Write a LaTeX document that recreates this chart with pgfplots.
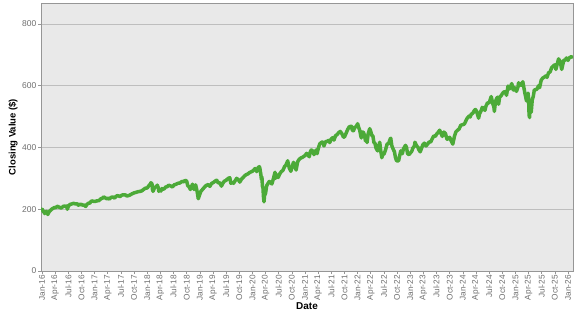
\documentclass[border=0pt]{standalone}
\usepackage{pgfplots}
\pgfplotsset{compat=1.18}
\usepackage{fontspec}
\setmainfont{Liberation Sans}
\definecolor{linegreen}{RGB}{76,170,56}
\definecolor{bggray}{RGB}{233,233,233}
\definecolor{gridgray}{RGB}{190,190,190}
\definecolor{axisgray}{RGB}{150,150,150}
\definecolor{tickgray}{RGB}{110,110,110}
\begin{document}
\begin{tikzpicture}
\begin{axis}[
  scale only axis,
  width=532bp, height=268bp,
  xmin=2015.98, xmax=2026.095,
  ymin=0, ymax=868,
  ytick={0,200,400,600,800},
  ymajorgrids,
  grid style={gridgray, line width=0.8bp},
  axis background/.style={fill=bggray},
  axis line style={axisgray, line width=0.8bp},
  tick style={axisgray, line width=0.6bp},
  tick align=outside,
  major tick length=3bp,
  xtick={2016,2016.25,...,2026.1},
  xticklabels={Jan-16,Apr-16,Jul-16,Oct-16,Jan-17,Apr-17,Jul-17,Oct-17,Jan-18,Apr-18,Jul-18,Oct-18,Jan-19,Apr-19,Jul-19,Oct-19,Jan-20,Apr-20,Jul-20,Oct-20,Jan-21,Apr-21,Jul-21,Oct-21,Jan-22,Apr-22,Jul-22,Oct-22,Jan-23,Apr-23,Jul-23,Oct-23,Jan-24,Apr-24,Jul-24,Oct-24,Jan-25,Apr-25,Jul-25,Oct-25,Jan-26},
  x tick label style={rotate=90, anchor=east, font=\fontsize{8.3}{9}\selectfont, color=tickgray, inner sep=1bp},
  y tick label style={font=\fontsize{8.5}{10}\selectfont, color=tickgray, inner sep=1.5bp},
  xtick pos=bottom, ytick pos=left,
  /pgf/number format/assume math mode=true,
  xlabel={Date},
  ylabel={Closing Value (\$)},
  every axis x label/.style={at={(rel axis cs:0.5,0)}, anchor=center, yshift=-35bp, font=\bfseries\fontsize{10}{12}\selectfont},
  every axis y label/.style={at={(rel axis cs:0,0.5)}, anchor=center, rotate=90, yshift=28bp, font=\bfseries\fontsize{9.5}{11}\selectfont},
  clip=true,
]
\coordinate (sw) at (rel axis cs:0,0);
\addplot[linegreen, line width=3.5bp, line join=round, line cap=round] coordinates {
(2016.00,201) (2016.02,194) (2016.04,190) (2016.05,186) (2016.06,189) (2016.08,193) (2016.09,191) (2016.11,183) (2016.12,187) (2016.14,193) (2016.16,196) (2016.18,200) (2016.20,202) (2016.22,204) (2016.24,206) (2016.26,205) (2016.28,208) (2016.30,210) (2016.32,207) (2016.34,206) (2016.36,204) (2016.38,206) (2016.40,209) (2016.42,210) (2016.44,210) (2016.46,208) (2016.47,211) (2016.48,200) (2016.50,209) (2016.52,214) (2016.54,216) (2016.56,217) (2016.58,218) (2016.60,219) (2016.62,218) (2016.64,217) (2016.67,218) (2016.69,213) (2016.71,216) (2016.73,215) (2016.75,216) (2016.77,213) (2016.79,214) (2016.81,212) (2016.83,209) (2016.85,215) (2016.87,218) (2016.89,220) (2016.91,220) (2016.93,225) (2016.95,227) (2016.97,226) (2017.00,225)
(2017.04,227) (2017.08,228) (2017.12,234) (2017.15,236) (2017.17,240) (2017.20,237) (2017.23,234) (2017.25,236) (2017.28,233) (2017.31,238) (2017.34,240) (2017.38,236) (2017.40,241) (2017.43,244) (2017.46,243) (2017.48,241) (2017.52,246) (2017.56,247) (2017.59,246) (2017.61,243) (2017.64,244) (2017.67,246) (2017.71,250) (2017.75,253) (2017.79,255) (2017.83,257) (2017.87,258) (2017.90,260) (2017.93,264) (2017.96,268) (2018.00,269)
(2018.03,276) (2018.06,282) (2018.07,286) (2018.09,282) (2018.10,264) (2018.11,258) (2018.13,266) (2018.15,273) (2018.17,272) (2018.19,278) (2018.21,270) (2018.22,258) (2018.24,263) (2018.26,259) (2018.28,267) (2018.30,265) (2018.32,266) (2018.35,272) (2018.38,273) (2018.41,278) (2018.45,275) (2018.48,272) (2018.51,279) (2018.55,281) (2018.58,284) (2018.62,285) (2018.66,290) (2018.70,289) (2018.72,294) (2018.75,291) (2018.77,276) (2018.79,274) (2018.82,264) (2018.84,273) (2018.86,281) (2018.88,273) (2018.89,264) (2018.92,279) (2018.94,264) (2018.95,256) (2018.97,234) (2019.00,249)
(2019.02,258) (2019.05,264) (2019.08,270) (2019.12,277) (2019.16,280) (2019.19,274) (2019.22,283) (2019.26,287) (2019.29,291) (2019.32,294) (2019.35,285) (2019.38,286) (2019.41,275) (2019.43,282) (2019.46,290) (2019.50,294) (2019.54,300) (2019.57,302) (2019.59,284) (2019.62,288) (2019.64,284) (2019.67,292) (2019.70,300) (2019.73,296) (2019.76,288) (2019.79,297) (2019.82,302) (2019.85,308) (2019.88,312) (2019.91,314) (2019.94,318) (2019.97,321) (2020.00,323)
(2020.03,328) (2020.05,332) (2020.08,322) (2020.10,333) (2020.13,338) (2020.14,334) (2020.16,313) (2020.17,297) (2020.18,305) (2020.19,275) (2020.20,270) (2020.21,240) (2020.22,224) (2020.23,244) (2020.25,252) (2020.27,276) (2020.29,282) (2020.32,290) (2020.35,285) (2020.37,282) (2020.40,300) (2020.43,320) (2020.44,300) (2020.46,312) (2020.49,303) (2020.52,315) (2020.55,322) (2020.58,326) (2020.61,338) (2020.64,344) (2020.67,357) (2020.70,334) (2020.73,323) (2020.75,334) (2020.78,352) (2020.81,340) (2020.83,327) (2020.86,354) (2020.89,362) (2020.92,366) (2020.95,368) (2021.00,374)
(2021.03,381) (2021.06,375) (2021.08,370) (2021.10,386) (2021.12,392) (2021.15,388) (2021.17,377) (2021.20,388) (2021.21,392) (2021.23,380) (2021.25,396) (2021.28,412) (2021.31,416) (2021.33,418) (2021.35,412) (2021.36,405) (2021.39,419) (2021.42,420) (2021.45,423) (2021.47,416) (2021.50,428) (2021.53,432) (2021.55,424) (2021.58,438) (2021.61,442) (2021.64,448) (2021.67,452) (2021.70,445) (2021.73,434) (2021.75,434) (2021.78,446) (2021.81,458) (2021.84,467) (2021.88,469) (2021.90,456) (2021.92,454) (2021.95,467) (2021.97,466) (2022.00,477)
(2022.02,465) (2022.04,456) (2022.06,438) (2022.07,431) (2022.09,450) (2022.11,449) (2022.13,440) (2022.15,421) (2022.17,435) (2022.18,416) (2022.20,444) (2022.23,461) (2022.25,452) (2022.27,439) (2022.29,438) (2022.31,416) (2022.33,414) (2022.35,398) (2022.38,389) (2022.41,410) (2022.42,417) (2022.44,389) (2022.46,367) (2022.48,378) (2022.50,378) (2022.53,392) (2022.56,411) (2022.59,413) (2022.62,428) (2022.63,430) (2022.65,406) (2022.67,397) (2022.70,386) (2022.72,367) (2022.74,357) (2022.77,357) (2022.78,357) (2022.80,374) (2022.82,389) (2022.85,380) (2022.87,395) (2022.91,407) (2022.93,400) (2022.95,380) (2022.98,377) (2023.00,382)
(2023.03,388) (2023.05,398) (2023.08,405) (2023.09,417) (2023.12,406) (2023.15,400) (2023.16,394) (2023.19,386) (2023.21,395) (2023.24,409) (2023.27,414) (2023.30,405) (2023.33,411) (2023.36,418) (2023.39,418) (2023.42,429) (2023.45,438) (2023.48,436) (2023.50,443) (2023.53,449) (2023.56,456) (2023.58,448) (2023.61,436) (2023.64,450) (2023.67,445) (2023.70,427) (2023.72,428) (2023.75,433) (2023.78,421) (2023.81,411) (2023.84,436) (2023.87,451) (2023.90,456) (2023.93,460) (2023.96,472) (2024.00,474)
(2024.03,476) (2024.06,487) (2024.08,494) (2024.12,502) (2024.14,499) (2024.16,508) (2024.19,511) (2024.22,520) (2024.24,523) (2024.26,518) (2024.30,495) (2024.32,510) (2024.35,520) (2024.37,530) (2024.40,527) (2024.42,520) (2024.44,534) (2024.47,545) (2024.50,544) (2024.53,560) (2024.54,565) (2024.57,542) (2024.59,532) (2024.60,517) (2024.62,548) (2024.64,558) (2024.66,563) (2024.68,540) (2024.70,563) (2024.73,568) (2024.75,574) (2024.78,580) (2024.81,580) (2024.83,569) (2024.86,599) (2024.89,590) (2024.92,602) (2024.93,607) (2024.96,586) (2024.98,595) (2025.00,586)
(2025.02,582) (2025.05,597) (2025.06,610) (2025.08,601) (2025.10,605) (2025.12,601) (2025.13,609) (2025.14,613) (2025.16,595) (2025.18,576) (2025.20,560) (2025.21,551) (2025.23,567) (2025.24,576) (2025.25,560) (2025.26,505) (2025.27,497) (2025.275,549) (2025.29,526) (2025.30,514) (2025.32,554) (2025.34,566) (2025.36,587) (2025.38,587) (2025.41,589) (2025.44,600) (2025.46,594) (2025.49,618) (2025.52,625) (2025.55,628) (2025.58,632) (2025.60,627) (2025.63,642) (2025.66,645) (2025.69,659) (2025.72,664) (2025.75,668) (2025.77,653) (2025.79,667) (2025.82,687) (2025.85,679) (2025.88,653) (2025.90,668) (2025.92,683) (2025.95,683) (2025.97,690) (2026.00,682) (2026.02,690) (2026.04,692) (2026.06,694) (2026.08,692)
};
\end{axis}
\pgfresetboundingbox
\path[use as bounding box] (sw) ++(-41bp,-44bp) rectangle ++(577bp,315bp);
\end{tikzpicture}
\end{document}
